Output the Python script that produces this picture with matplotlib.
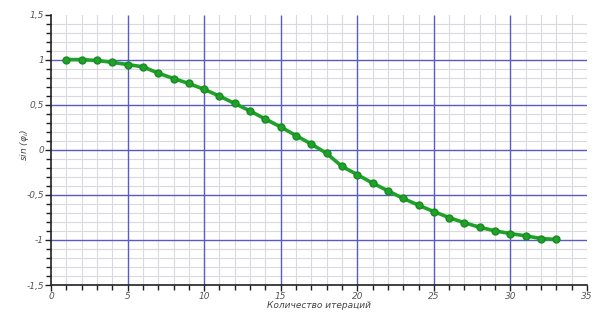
import numpy as np
import matplotlib
matplotlib.use('Agg')
import matplotlib.pyplot as plt
from matplotlib.ticker import MultipleLocator, FuncFormatter

# номер итерации и значение sin(phi_i)
iters = list(range(1, 34))
sin_phi = [1.0, 1.0, 0.99, 0.97, 0.945, 0.92, 0.85, 0.79, 0.735, 0.67,
           0.595, 0.513, 0.43, 0.34, 0.253, 0.157, 0.063, -0.04, -0.185, -0.276,
           -0.37, -0.455, -0.54, -0.615, -0.686, -0.753, -0.81, -0.86, -0.9, -0.93,
           -0.955, -0.985, -0.995]

xlabel = 'Количество итераций'
ylabel = 'sin (φ$_i$)'

fig = plt.figure(figsize=(5.98, 3.12), dpi=100)
ax = fig.add_axes([51/598, 1 - 285/312, (587 - 51)/598, (285 - 14.5)/312])

ax.set_xlim(0, 35)
ax.set_ylim(-1.5, 1.5)

ax.xaxis.set_major_locator(MultipleLocator(5))
ax.xaxis.set_minor_locator(MultipleLocator(1))
ax.yaxis.set_major_locator(MultipleLocator(0.5))
ax.yaxis.set_minor_locator(MultipleLocator(0.1))

fmt = FuncFormatter(lambda v, p: ('%g' % v).replace('.', ','))
ax.xaxis.set_major_formatter(fmt)
ax.yaxis.set_major_formatter(fmt)

ax.grid(which='minor', color='#d9d9df', lw=0.8)
ax.set_axisbelow(True)

# крупная сетка поверх мелкой, без линий по краям (1,5 и 35)
xl, yl = ax.get_xlim(), ax.get_ylim()
xm = [v for v in ax.xaxis.get_majorticklocs() if xl[0] < v < xl[1]]
ym = [v for v in ax.yaxis.get_majorticklocs() if yl[0] < v < yl[1]]
ax.vlines(xm, yl[0], yl[1], color='#5a5ac6', lw=1.0, zorder=0.8)
ax.hlines(ym, xl[0], xl[1], color='#5a5ac6', lw=1.0, zorder=0.8)

ax.plot(iters, sin_phi, color='#1fa22a', lw=2.6, marker='o', ms=5,
        markerfacecolor='#1fa22a', markeredgecolor='#1a8a22', zorder=3)

for s in ['top', 'right']:
    ax.spines[s].set_visible(False)
for s in ['left', 'bottom']:
    ax.spines[s].set_color('#202020')
    ax.spines[s].set_linewidth(1.2)

ax.tick_params(which='major', length=4, width=1, color='#202020',
               labelsize=6.5, labelcolor='#555555', pad=1)
ax.tick_params(which='minor', length=3.5, width=1, color='#202020')
for t in ax.get_xticklabels() + ax.get_yticklabels():
    t.set_fontstyle('italic')

fig.canvas.draw()
for axis, edge in [(ax.xaxis, 35), (ax.yaxis, 1.5)]:
    for tk in axis.get_minor_ticks():
        if abs(tk.get_loc() - edge) < 1e-6:
            tk.gridline.set_visible(False)

ax.set_xlabel(xlabel, fontsize=6.5, style='italic', color='#444444', labelpad=0)
ax.set_ylabel(ylabel, fontsize=6.5, style='italic', color='#444444')
ax.yaxis.set_label_coords(-0.037, 0.516)

fig.savefig('out.png', dpi=100)
